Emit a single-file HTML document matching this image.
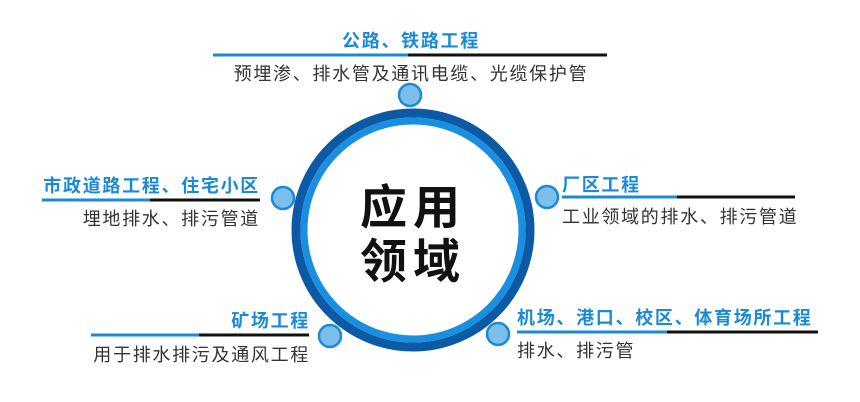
<!DOCTYPE html>
<html><head><meta charset="utf-8"><style>
html,body{margin:0;padding:0;background:#fff;width:860px;height:402px;overflow:hidden}
svg text{font-family:"Liberation Sans","Noto Sans CJK SC",sans-serif}
.t{font-weight:bold;fill:#1a8ad4;font-size:18px;letter-spacing:1.7px}
.s{fill:#333;font-size:18px;letter-spacing:1.7px}
</style></head><body>
<svg width="860" height="402" viewBox="0 0 860 402" xmlns="http://www.w3.org/2000/svg">
<circle cx="413" cy="230" r="117" fill="none" stroke="#0c5aa6" stroke-width="9"/>
<circle cx="413" cy="230" r="109" fill="none" stroke="#1a8fe0" stroke-width="7"/>
<text x="413" y="224" text-anchor="middle" font-size="47" font-weight="bold" fill="#111" letter-spacing="6">应用</text>
<text x="413" y="278" text-anchor="middle" font-size="47" font-weight="bold" fill="#111" letter-spacing="6">领域</text>
<g fill="#7dbfec" stroke="#1a8ad4" stroke-width="2.5">
<circle cx="410" cy="95" r="11"/>
<circle cx="283" cy="198" r="11"/>
<circle cx="547" cy="197" r="11"/>
<circle cx="330" cy="336" r="11"/>
<circle cx="498" cy="334" r="11"/>
</g>
<g stroke-width="3">
<line x1="213" y1="55" x2="408" y2="55" stroke="#1a8ad4"/><line x1="408" y1="55" x2="607" y2="55" stroke="#111"/>
<line x1="42" y1="200" x2="150" y2="200" stroke="#1a8ad4"/><line x1="150" y1="200" x2="260" y2="200" stroke="#111"/>
<line x1="91" y1="335" x2="199" y2="335" stroke="#1a8ad4"/><line x1="199" y1="335" x2="309" y2="335" stroke="#111"/>
<line x1="562" y1="197" x2="677" y2="197" stroke="#1a8ad4"/><line x1="677" y1="197" x2="795" y2="197" stroke="#111"/>
<line x1="517" y1="332" x2="667" y2="332" stroke="#1a8ad4"/><line x1="667" y1="332" x2="818" y2="332" stroke="#111"/>
</g>
<text class="t" x="411" y="47" text-anchor="middle">公路、铁路工程</text>
<text class="s" x="411" y="80" text-anchor="middle">预埋渗、排水管及通讯电缆、光缆保护管</text>
<text class="t" x="260" y="192" text-anchor="end">市政道路工程、住宅小区</text>
<text class="s" x="260" y="225" text-anchor="end">埋地排水、排污管道</text>
<text class="t" x="310" y="327" text-anchor="end">矿场工程</text>
<text class="s" x="310" y="361" text-anchor="end">用于排水排污及通风工程</text>
<text class="t" x="562" y="191">厂区工程</text>
<text class="s" x="562" y="223">工业领域的排水、排污管道</text>
<text class="t" x="517" y="324">机场、港口、校区、体育场所工程</text>
<text class="s" x="517" y="357">排水、排污管</text>
</svg>
</body></html>
